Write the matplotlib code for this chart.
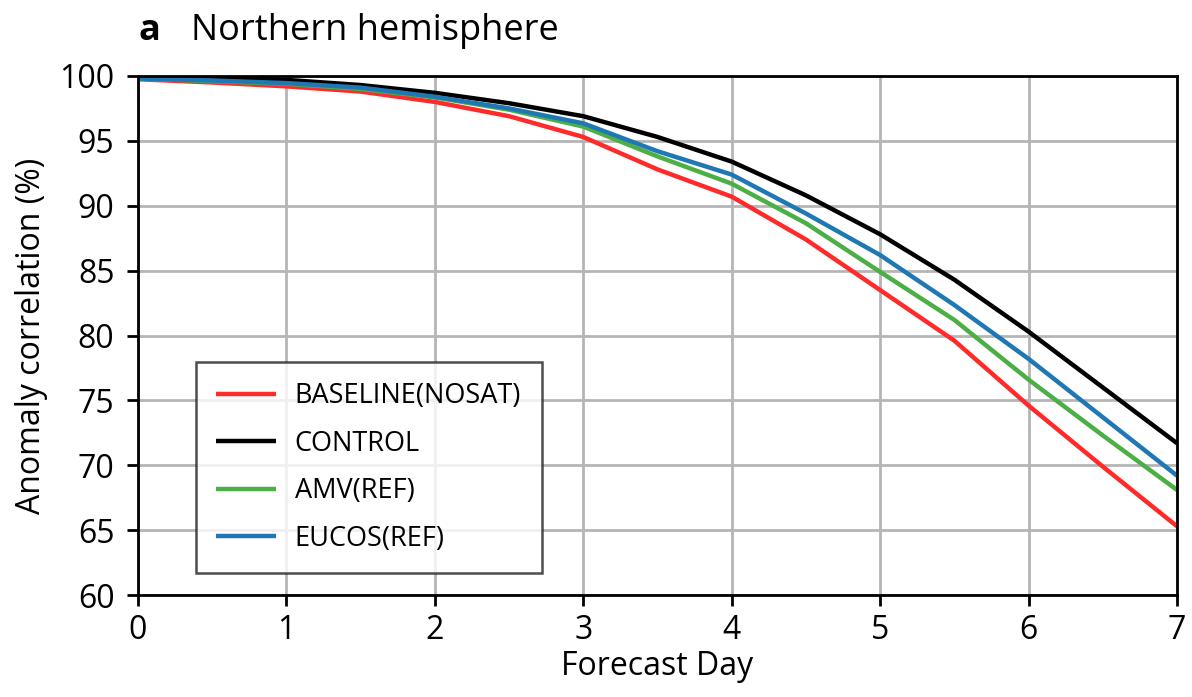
import matplotlib
matplotlib.use("Agg")
import matplotlib.pyplot as plt

plt.rcParams['font.family'] = ['Open Sans', 'DejaVu Sans']

days = [0, 0.5, 1, 1.5, 2, 2.5, 3, 3.5, 4, 4.5, 5, 5.5, 6, 6.5, 7]
baseline = [99.75, 99.5, 99.2, 98.8, 98.0, 96.9, 95.3, 92.8, 90.7, 87.4, 83.5, 79.6, 74.6, 69.9, 65.3]
control = [99.9, 99.85, 99.7, 99.3, 98.7, 97.9, 96.9, 95.3, 93.4, 90.8, 87.8, 84.3, 80.3, 76.0, 71.7]
amv = [99.8, 99.6, 99.4, 99.0, 98.35, 97.4, 96.1, 93.8, 91.7, 88.65, 84.9, 81.2, 76.6, 72.3, 68.1]
eucos = [99.8, 99.65, 99.45, 99.1, 98.4, 97.5, 96.35, 94.2, 92.4, 89.4, 86.2, 82.35, 78.2, 73.7, 69.2]

labels = ["BASELINE(NOSAT)", "CONTROL", "AMV(REF)", "EUCOS(REF)"]
colors = ["#ff2a2a", "#000000", "#4caf45", "#1f78b4"]
xticks = list(range(0, 8))
yticks = list(range(60, 101, 5))

fig = plt.figure(figsize=(11.92, 6.97), dpi=100)
ax = fig.add_axes([0.1158, 0.1463, 0.8716, 0.7447])

for series, lab, col in zip([baseline, control, amv, eucos], labels, colors):
    ax.plot(days, series, color=col, lw=3.2, label=lab, solid_capstyle='butt')

ax.set_xlim(0, 7)
ax.set_ylim(60, 100)
ax.set_xticks(xticks)
ax.set_yticks(yticks)
ax.grid(True, color="#b5b5b5", lw=2.0)
ax.set_axisbelow(True)
for s in ax.spines.values():
    s.set_linewidth(2.0)
ax.tick_params(axis='both', labelsize=23, width=2.0, length=8, direction='out')
ax.tick_params(axis='y', pad=9)
ax.tick_params(axis='x', pad=6)
ax.set_xlabel("Forecast Day", fontsize=23, labelpad=2)
ax.set_ylabel("Anomaly correlation (%)", fontsize=23, labelpad=8)

leg = ax.legend(loc='lower left', bbox_to_anchor=(0.0558, 0.0424), fontsize=19.5,
                frameon=True, fancybox=False, edgecolor='#222222',
                handlelength=2.2, handletextpad=0.7, labelspacing=0.72,
                borderpad=0.75, borderaxespad=0)
leg.get_frame().set_linewidth(1.8)

fig.text(0.116, 0.955, "a", fontsize=26, fontweight='bold', va='center', ha='left')
fig.text(0.160, 0.955, "Northern hemisphere", fontsize=26, va='center', ha='left')

fig.savefig("out.png", dpi=100)
